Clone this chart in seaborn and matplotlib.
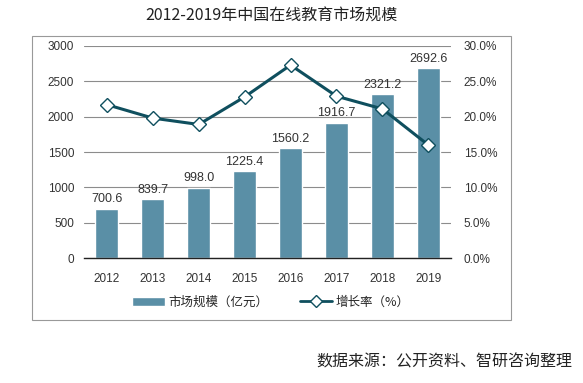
"""2012-2019 China online education market size chart."""

import matplotlib

matplotlib.use("Agg")
import matplotlib.pyplot as plt
from matplotlib.patches import Rectangle
from matplotlib.lines import Line2D
from matplotlib.ticker import FuncFormatter
import pandas as pd
import seaborn as sns

years = ["2012", "2013", "2014", "2015", "2016", "2017", "2018", "2019"]
market_size = [700.6, 839.7, 998.0, 1225.4, 1560.2, 1916.7, 2321.2, 2692.6]
growth_rate = [21.7, 19.8, 18.9, 22.8, 27.3, 22.9, 21.1, 16.0]

sns.set_style("white")
plt.rcParams["font.family"] = ["Liberation Sans", "Noto Sans CJK SC", "DejaVu Sans"]

bar_color = "#5a8fa6"
line_color = "#0f4f5e"
text_color = "#333333"

df = pd.DataFrame({"year": years, "size": market_size, "growth": growth_rate})

fig = plt.figure(figsize=(5.83, 3.83), dpi=100)
ax = fig.add_axes([0.144, 0.326, 0.630, 0.554])

sns.barplot(data=df, x="year", y="size", color=bar_color, width=0.5,
            saturation=1, ax=ax, zorder=2)
ax.set_xlim(-0.5, len(years) - 0.5)
ax.set_ylim(0, 3000)
ax.set_yticks(range(0, 3001, 500))
ax.grid(True, axis="y", color="#8c8c8c", linewidth=0.8, zorder=0)
ax.set_axisbelow(True)
for side in ["top", "left", "right"]:
    ax.spines[side].set_visible(False)
ax.spines["bottom"].set_color("#222222")
ax.spines["bottom"].set_linewidth(1.0)
ax.tick_params(axis="both", length=0, labelsize=8.5, colors=text_color)
ax.tick_params(axis="x", pad=11)
ax.tick_params(axis="y", pad=7)
ax.set_xlabel("")
ax.set_ylabel("")

for i, v in enumerate(market_size):
    ax.text(i, v + 45, f"{v:.1f}", ha="center", va="bottom",
            fontsize=9, color=text_color, zorder=5)

ax2 = ax.twinx()
ax2.plot(range(len(years)), growth_rate, color=line_color, linewidth=2.2,
         marker="D", markersize=7, markerfacecolor="white",
         markeredgecolor=line_color, markeredgewidth=1.0, zorder=4)
ax2.set_ylim(0, 30)
ax2.set_yticks(range(0, 31, 5))
ax2.yaxis.set_major_formatter(FuncFormatter(lambda v, _: f"{v:.1f}%"))
for side in ["top", "left", "right", "bottom"]:
    ax2.spines[side].set_visible(False)
ax2.tick_params(axis="y", length=0, labelsize=8.5, colors=text_color, pad=9)
ax2.grid(False)

fig.text(0.465, 0.957, "2012-2019年中国在线教育市场规模", ha="center",
         va="center", fontsize=11.5, color="#222222",
         family=["Noto Sans CJK SC", "DejaVu Sans"])

fig.patches.append(Rectangle((32 / 583, 1 - 320 / 383), (511 - 32) / 583,
                             (320 - 36) / 383, transform=fig.transFigure,
                             fill=False, edgecolor="#999999", linewidth=0.8))

handles = [
    Rectangle((0, 0), 1, 1, facecolor=bar_color),
    Line2D([0], [0], color=line_color, linewidth=2, marker="D", markersize=6,
           markerfacecolor="white", markeredgecolor=line_color),
]
fig.legend(handles, ["市场规模（亿元）", "增长率（%）"], loc="center",
           bbox_to_anchor=(0.465, 1 - 302 / 383), ncol=2, frameon=False,
           fontsize=9, handlelength=2.6, columnspacing=2.5, handletextpad=0.3,
           prop={"family": ["Noto Sans CJK SC", "DejaVu Sans"], "size": 9})

fig.text(0.982, 1 - 362 / 383, "数据来源：公开资料、智研咨询整理", ha="right",
         va="center", fontsize=11.5, color="#222222",
         family=["Noto Sans CJK SC", "DejaVu Sans"])

fig.savefig("out.png", dpi=100)
